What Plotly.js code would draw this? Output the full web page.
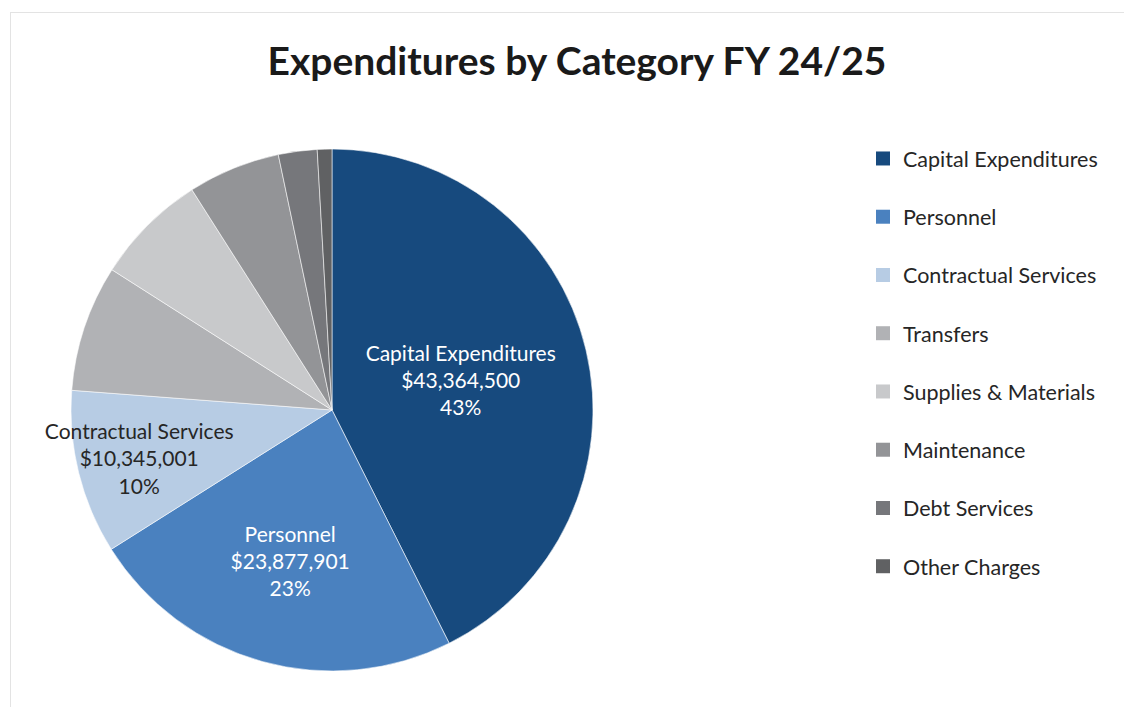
<!DOCTYPE html>
<html>
<head>
<meta charset="utf-8">
<script src="https://cdn.plot.ly/plotly-3.0.1.min.js"></script>
<style>
  html, body { margin: 0; padding: 0; background: #ffffff; }
  #wrap { position: relative; width: 1124px; height: 707px; }
  #frame { position: absolute; left: 10px; top: 12px; right: -2px; bottom: -2px;
           border-left: 1px solid #e3e3e3; border-top: 1px solid #e3e3e3; }
  #chart { position: absolute; left: 0; top: 0; width: 1124px; height: 707px; }
</style>
</head>
<body>
<div id="wrap">
  <div id="frame"></div>
  <div id="chart"></div>
</div>
<script>
// Data
const categories = ["Capital Expenditures", "Personnel", "Contractual Services", "Transfers",
                    "Supplies & Materials", "Maintenance", "Debt Services", "Other Charges"];
const amounts = [43364500, 23877901, 10345001, 7970000, 7080000, 5820000, 2440000, 920000];
const showLabel = [true, true, true, false, false, false, false, false];

// Styles
const colors = ["#174A7E", "#4A81BF", "#B7CCE4", "#B1B2B5", "#C8C9CB", "#939497", "#76777B", "#606163"];
const textColors = ["#ffffff", "#ffffff", "#262626", "#262626", "#262626", "#262626", "#262626", "#262626"];
const FONT = "Lato, 'Open Sans', sans-serif";

const templates = showLabel.map(s => s ? "%{label}<br>$%{value:,.0f}<br>%{percent:.0%}" : "");

const pie = {
  type: "pie",
  labels: categories,
  values: amounts,
  sort: false,
  direction: "clockwise",
  rotation: 0,
  marker: { colors: colors, line: { color: "rgba(255,255,255,0.7)", width: 0.8 } },
  texttemplate: templates,
  textposition: "inside",
  insidetextorientation: "horizontal",
  textfont: { family: FONT, size: 21, color: textColors },
  hoverinfo: "label+value+percent",
  showlegend: false,
  domain: { x: [71/1124, 593/1124], y: [36/707, 558/707] }
};

// Legend entries built from the same categories / colours
const legendTraces = categories.map((c, i) => ({
  type: "scatter",
  x: [null], y: [null],
  mode: "markers",
  name: c,
  legendgroup: "g" + i,
  marker: { symbol: "square", size: 14, color: colors[i] },
  hoverinfo: "skip"
}));

const layout = {
  width: 1124, height: 707,
  margin: { l: 0, r: 0, t: 0, b: 0 },
  paper_bgcolor: "rgba(0,0,0,0)",
  plot_bgcolor: "rgba(0,0,0,0)",
  uniformtext: { mode: "show", minsize: 21 },
  title: {
    text: "<b>Expenditures by Category FY 24/25</b>",
    font: { family: FONT, size: 39, color: "#1a1a1a" },
    x: 577/1124, xanchor: "center", xref: "paper",
    y: 1 - 61/707, yanchor: "middle", yref: "container"
  },
  xaxis: { visible: false, domain: [0.9, 1] },
  yaxis: { visible: false, domain: [0.9, 1] },
  showlegend: true,
  legend: {
    x: 863/1124, xanchor: "left",
    y: 1 - 138/707, yanchor: "top",
    font: { family: FONT, size: 21.5, color: "#262626" },
    tracegroupgap: 27.3,
    bgcolor: "rgba(0,0,0,0)",
    itemclick: false, itemdoubleclick: false
  }
};

Plotly.newPlot("chart", [pie].concat(legendTraces), layout, { displayModeBar: false, staticPlot: true });
</script>
</body>
</html>
